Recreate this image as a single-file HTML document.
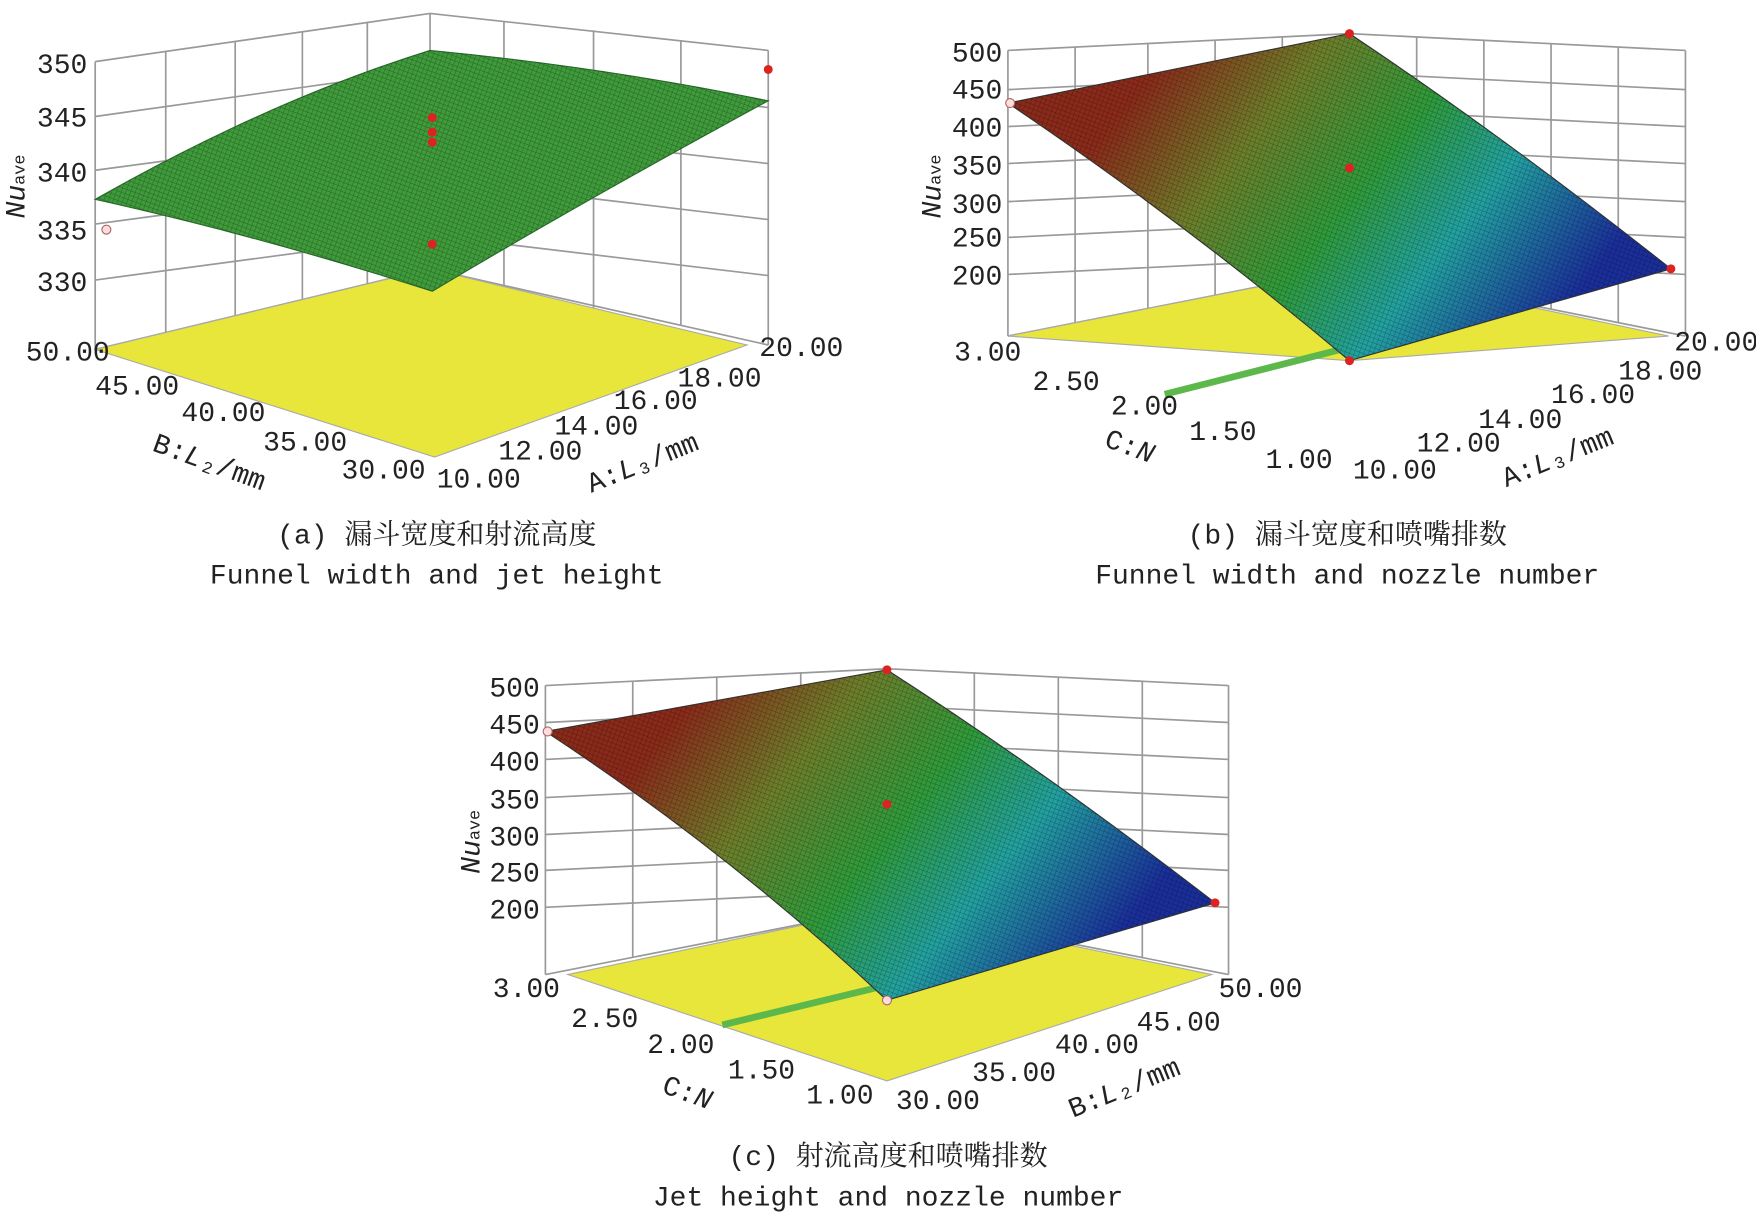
<!DOCTYPE html>
<html><head><meta charset="utf-8"><style>
html,body{margin:0;padding:0;background:#fff;}
svg{display:block;}
text{font-family:"Liberation Mono","Noto Serif CJK SC",monospace;fill:#222;}
.t{font-size:25px;}
.c{font-family:"Liberation Mono","Noto Serif CJK SC",serif;font-size:25px;}
</style></head><body>
<svg width="1756" height="1212" viewBox="0 0 1568 1082" preserveAspectRatio="none" xmlns="http://www.w3.org/2000/svg">
<defs>
<linearGradient id="gb" gradientUnits="userSpaceOnUse" x1="1040" y1="50" x2="1370" y2="310">
<stop offset="0" stop-color="#8a2a1a"/><stop offset="0.25" stop-color="#6d7d2a"/><stop offset="0.5" stop-color="#2f9a3a"/><stop offset="0.72" stop-color="#22a0a0"/><stop offset="1" stop-color="#1a2e9a"/></linearGradient>
<linearGradient id="gc" gradientUnits="userSpaceOnUse" x1="630" y1="610" x2="960" y2="880">
<stop offset="0" stop-color="#8a2a1a"/><stop offset="0.25" stop-color="#6d7d2a"/><stop offset="0.5" stop-color="#2f9a3a"/><stop offset="0.72" stop-color="#22a0a0"/><stop offset="1" stop-color="#1a2e9a"/></linearGradient>
<pattern id="mesh" width="4" height="4" patternUnits="userSpaceOnUse" patternTransform="rotate(20)">
<path d="M0 0H4 M0 0V4" stroke="#000" stroke-width="0.8" opacity="0.35"/></pattern>
</defs>
<g stroke="#999" stroke-width="1.5" fill="none">
<path d="M85 55 L384 12 L686 45 M85 312 L384 240 L686 308 M85 55 V312 M384 12 V240 M686 45 V308"/>
<path d="M148 46V297 M210 37V282 M270 29V268 M328 20V254 M450 19V255 M530 27V275 M608 36V290"/>
<path d="M85 104L384 62L686 96 M85 152L384 112L686 146 M85 200L384 160L686 196 M85 250L384 210L686 246"/>
<path d="M900 45 L1205 30 L1505 45 M900 300 L1205 240 L1505 300 M900 45V300 M1205 30V240 M1505 45V300"/>
<path d="M960 42V288 M1025 39V275 M1085 36V263 M1145 33V252 M1265 33V252 M1325 36V264 M1385 39V276 M1445 42V288"/>
<path d="M900 80L1205 65L1505 80 M900 113L1205 98L1505 113 M900 146L1205 131L1505 146 M900 180L1205 165L1505 180 M900 212L1205 197L1505 212 M900 245L1205 230L1505 245"/>
<path d="M487 612 L792 597 L1097 612 M487 870 L792 810 L1097 870 M487 612V870 M792 597V810 M1097 612V870"/>
<path d="M565 608V855 M640 604V840 M715 600V825 M870 600V825 M945 604V840 M1020 608V855"/>
<path d="M487 645L792 630L1097 645 M487 678L792 663L1097 678 M487 712L792 697L1097 712 M487 745L792 730L1097 745 M487 777L792 762L1097 777 M487 810L792 795L1097 810"/>
</g>
<polygon points="85,312 388,408 667,308 384,240" fill="#e8e63a" stroke="#aaa"/>
<polygon points="900,300 1205,322 1490,300 1205,240" fill="#e8e63a" stroke="#aaa"/>
<polygon points="507,870 792,965 1082,870 792,810" fill="#e8e63a" stroke="#aaa"/>
<path d="M1040 352 L1205 310" stroke="#5cb84a" stroke-width="6"/>
<path d="M645 915 L790 880" stroke="#5cb84a" stroke-width="6"/>
<path d="M85 178 Q240 90 384 45 Q540 60 686 90 Q520 180 386 260 Q230 210 85 178Z" fill="#3e9a3a" stroke="#2a6a2a"/>
<path d="M85 178 Q240 90 384 45 Q540 60 686 90 Q520 180 386 260 Q230 210 85 178Z" fill="url(#mesh)"/>
<path d="M900 92 L1205 30 Q1340 120 1492 240 L1205 322 Q1060 200 900 92Z" fill="url(#gb)" stroke="#333"/>
<path d="M900 92 L1205 30 Q1340 120 1492 240 L1205 322 Q1060 200 900 92Z" fill="url(#mesh)"/>
<path d="M487 653 L792 598 Q935 690 1085 806 L792 893 Q650 760 487 653Z" fill="url(#gc)" stroke="#333"/>
<path d="M487 653 L792 598 Q935 690 1085 806 L792 893 Q650 760 487 653Z" fill="url(#mesh)"/>
<g fill="#d22">
<circle cx="386" cy="105" r="4"/><circle cx="386" cy="118" r="4"/><circle cx="386" cy="127" r="4"/><circle cx="386" cy="218" r="4"/><circle cx="686" cy="62" r="4"/>
<circle cx="1205" cy="150" r="4"/><circle cx="1205" cy="30" r="4"/><circle cx="1492" cy="240" r="4"/><circle cx="1205" cy="322" r="4"/>
<circle cx="792" cy="718" r="4"/><circle cx="792" cy="598" r="4"/><circle cx="1085" cy="806" r="4"/>
</g>
<g fill="#fdd" stroke="#a66"><circle cx="95" cy="205" r="4"/><circle cx="902" cy="92" r="4"/><circle cx="489" cy="653" r="4"/><circle cx="792" cy="893" r="4"/></g>
<g class="t" text-anchor="end">
<text x="78" y="65">350</text><text x="78" y="113">345</text><text x="78" y="162">340</text><text x="78" y="214">335</text><text x="78" y="260">330</text>
<text x="98" y="322">50.00</text><text x="160" y="352">45.00</text><text x="237" y="376">40.00</text><text x="310" y="402">35.00</text><text x="380" y="427">30.00</text>
</g>
<g class="t"><text x="390" y="435">10.00</text><text x="445" y="410">12.00</text><text x="495" y="388">14.00</text><text x="548" y="365">16.00</text><text x="605" y="345">18.00</text><text x="678" y="318">20.00</text></g>
<text class="t" transform="translate(135,402) rotate(20)">B:<tspan font-style="italic">L</tspan>₂/mm</text>
<text class="t" transform="translate(528,440) rotate(-22)">A:<tspan font-style="italic">L</tspan>₃/mm</text>
<text class="t" transform="translate(22,195) rotate(-90)" font-style="italic">Nu<tspan font-size="15" font-style="normal">ave</tspan></text>
<g class="t" text-anchor="end">
<text x="895" y="55">500</text><text x="895" y="88">450</text><text x="895" y="122">400</text><text x="895" y="156">350</text><text x="895" y="190">300</text><text x="895" y="220">250</text><text x="895" y="254">200</text>
<text x="912" y="322">3.00</text><text x="982" y="348">2.50</text><text x="1052" y="370">2.00</text><text x="1122" y="393">1.50</text><text x="1190" y="418">1.00</text>
</g>
<g class="t"><text x="1208" y="427">10.00</text><text x="1265" y="403">12.00</text><text x="1320" y="382">14.00</text><text x="1385" y="360">16.00</text><text x="1445" y="339">18.00</text><text x="1495" y="313">20.00</text></g>
<text class="t" transform="translate(985,398) rotate(20)">C:<tspan font-style="italic">N</tspan></text>
<text class="t" transform="translate(1345,435) rotate(-22)">A:<tspan font-style="italic">L</tspan>₃/mm</text>
<text class="t" transform="translate(840,195) rotate(-90)" font-style="italic">Nu<tspan font-size="15" font-style="normal">ave</tspan></text>
<g class="t" text-anchor="end">
<text x="482" y="622">500</text><text x="482" y="655">450</text><text x="482" y="688">400</text><text x="482" y="722">350</text><text x="482" y="755">300</text><text x="482" y="787">250</text><text x="482" y="820">200</text>
<text x="500" y="890">3.00</text><text x="570" y="917">2.50</text><text x="638" y="940">2.00</text><text x="710" y="963">1.50</text><text x="780" y="985">1.00</text>
</g>
<g class="t"><text x="800" y="990">30.00</text><text x="868" y="965">35.00</text><text x="942" y="940">40.00</text><text x="1015" y="920">45.00</text><text x="1088" y="890">50.00</text></g>
<text class="t" transform="translate(590,975) rotate(20)">C:<tspan font-style="italic">N</tspan></text>
<text class="t" transform="translate(958,998) rotate(-22)">B:<tspan font-style="italic">L</tspan>₂/mm</text>
<text class="t" transform="translate(428,780) rotate(-90)" font-style="italic">Nu<tspan font-size="15" font-style="normal">ave</tspan></text>
<g class="c" text-anchor="middle">
<text x="390" y="485">(a) 漏斗宽度和射流高度</text>
<text x="390" y="521">Funnel width and jet height</text>
<text x="1203" y="485">(b) 漏斗宽度和喷嘴排数</text>
<text x="1203" y="521">Funnel width and nozzle number</text>
<text x="793" y="1040">(c) 射流高度和喷嘴排数</text>
<text x="793" y="1076">Jet height and nozzle number</text>
</g>
</svg>
</body></html>
